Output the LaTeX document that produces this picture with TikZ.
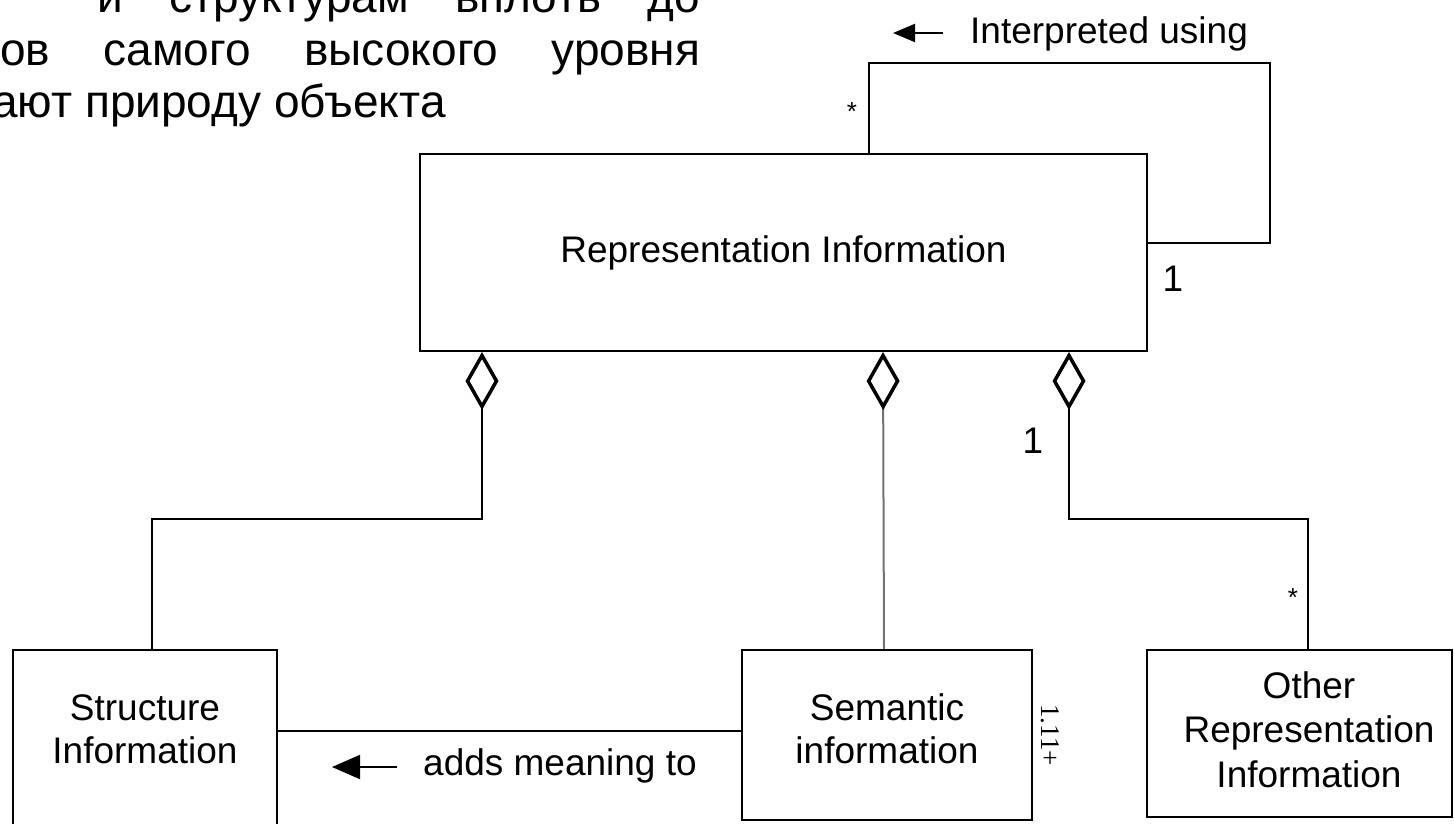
\documentclass[tikz,border=0pt]{standalone}
\usepackage{fontspec}
\setmainfont{Liberation Sans}
\newfontfamily\smallserif{Liberation Serif}
\usetikzlibrary{arrows.meta,calc}

\tikzset{
  box/.style={draw, line width=2pt, inner sep=0pt},
  lbl/.style={font=\fontsize{37}{44}\selectfont, inner sep=0pt},
  ru/.style={font=\fontsize{46}{50}\selectfont, inner sep=0pt, anchor=base west},
  mult/.style={font=\fontsize{37}{44}\selectfont, inner sep=0pt},
  star/.style={font=\fontsize{26}{30}\selectfont, inner sep=0pt},
  wire/.style={line width=2pt},
  agg/.style={wire, {Diamond[open, length=58pt, width=33pt, line width=3.5pt, color=black]}-},
  pointer/.style={line width=2pt, -{Triangle[length=22pt, width=18pt]}},
  bigpointer/.style={line width=2pt, -{Triangle[length=28pt, width=24pt]}},
}

\begin{document}
\begin{tikzpicture}[x=1pt, y=-1pt]
  \useasboundingbox (0,0) rectangle (1454,823);
  \fill[white] (0,0) rectangle (1454,823);
  \clip (0,0) rectangle (1454,823);

  % running slide text at the top left
  \node[ru] (ru1) at (97,12) {\makebox[603pt][s]{и структурам вплоть до}};
  \node[ru] (ru2) at (0,65) {\makebox[700pt][s]{ов самого высокого уровня}};
  \node[ru] (ru3) at (-8,117) {ают природу объекта};

  % classes
  \node[box, lbl, minimum width=727pt, minimum height=197pt] (rep) at (783.5,252.5)
       {Representation Information};
  \node[box, minimum width=264pt, minimum height=200pt] (str) at (145,750) {};
  \node[box, minimum width=290pt, minimum height=170pt] (sem) at (887,735) {};
  \node[box, minimum width=305pt, minimum height=167pt] (oth) at (1299.5,733.5) {};

  % class names
  \node[lbl, anchor=base] (strA) at (145,720) {Structure};
  \node[lbl, anchor=base] (strB) at (145,763) {Information};
  \node[lbl, anchor=base] (semA) at (887,720) {Semantic};
  \node[lbl, anchor=base] (semB) at (887,763) {information};
  \node[lbl, anchor=base] (othA) at (1309,698) {Other};
  \node[lbl, anchor=base] (othB) at (1309,742) {Representation};
  \node[lbl, anchor=base] (othC) at (1309,787) {Information};

  % self association
  \coordinate (loopc) at (1270,63);
  \draw[wire] ([xshift=450pt]rep.north west) |- (loopc) |- ([yshift=9.5pt]rep.east);
  \node[lbl, anchor=base west] (interp) at (970,43) {Interpreted using};
  \draw[pointer] ($(interp.base west)+(-27,-10)$) -- ++(-50,0);
  \node[star] (m1) at (852,112) {*};
  \node[mult] (m2) at (1173,279) {1};

  % aggregations
  \draw[agg] ([xshift=63pt]rep.south west) -- ++(0,167) -| ([xshift=7pt]str.north);
  \draw[agg, draw=black!55] ([xshift=464pt]rep.south west) -- ([xshift=-3pt]sem.north);
  \draw[agg] ([xshift=650pt]rep.south west) -- ++(0,167) -| ([xshift=8.5pt]oth.north);
  \node[mult] (m3) at (1033,441) {1};
  \node[star] (m4) at (1293,598) {*};

  % semantic to structure
  \draw[wire] ([yshift=-82pt]sem.north west) -- ([yshift=-82pt]str.north east);
  \node[lbl, anchor=base west] (adds) at (423,775) {adds meaning to};
  \draw[bigpointer] ($(adds.base west)+(-26,-8)$) -- ++(-65,0);
  \node[font=\smallserif\fontsize{27}{30}\selectfont, inner sep=0pt, rotate=-90] (m5)
       at (1050,735) {1.11+};
\end{tikzpicture}
\end{document}
